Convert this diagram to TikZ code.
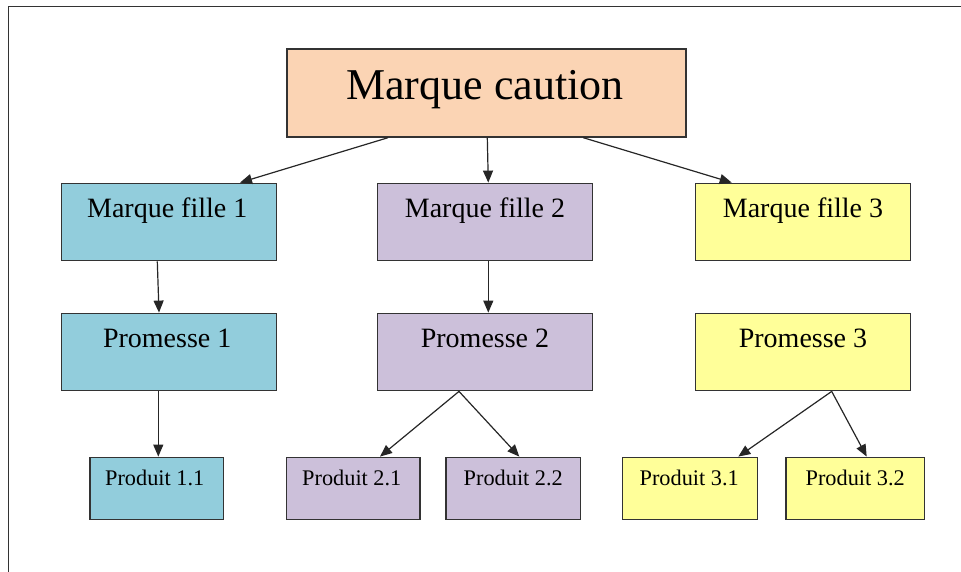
\documentclass[tikz,border=0pt]{standalone}
\usepackage{fontspec}
\setmainfont{Liberation Serif}
\usetikzlibrary{arrows.meta}
\definecolor{peach}{HTML}{FBD4B4}
\definecolor{aqua}{HTML}{92CDDC}
\definecolor{lilac}{HTML}{CCC0DA}
\definecolor{lemon}{HTML}{FFFF99}
\definecolor{edgegray}{HTML}{333333}
\tikzset{
  box/.style={draw=edgegray, line width=1.4pt, rectangle, inner sep=0pt},
  bigtxt/.style={anchor=base, inner sep=0pt, font=\fontsize{44}{50}\selectfont},
  midtxt/.style={anchor=base, inner sep=0pt, font=\fontsize{28}{33}\selectfont},
  smalltxt/.style={anchor=base, inner sep=0pt, font=\fontsize{22.3}{26}\selectfont},
  arr/.style={draw=black!85, line width=1.2pt, -{Triangle[length=12pt,width=10pt]}}
}
\begin{document}
\begin{tikzpicture}[x=1pt,y=-1pt]
\useasboundingbox (0,0) rectangle (961,572);
% page frame (left and top edges)
\draw[edgegray, line width=1.3pt] (8.5,572) -- (8.5,6.5) -- (961,6.5);

% top level
\node[box, fill=peach, minimum width=399pt, minimum height=88pt] (top) at (486.5,93) {};
\node[bigtxt] (topt) at ([xshift=-1.5pt,yshift=-51pt]top.north) {Marque caution};

% daughter brands
\node[box, fill=aqua,  minimum width=215pt, minimum height=77.4pt] (mf1) at (169.2,222) {};
\node[box, fill=lilac, minimum width=215.4pt, minimum height=77.4pt] (mf2) at (485,222) {};
\node[box, fill=lemon, minimum width=215.4pt, minimum height=77.4pt] (mf3) at (803,222) {};
\node[midtxt] (mf1t) at ([xshift=-2pt,yshift=-35pt]mf1.north) {Marque fille 1};
\node[midtxt] (mf2t) at ([yshift=-35pt]mf2.north) {Marque fille 2};
\node[midtxt] (mf3t) at ([yshift=-35pt]mf3.north) {Marque fille 3};

% promises
\node[box, fill=aqua,  minimum width=215pt, minimum height=77.4pt] (p1) at (169.2,352) {};
\node[box, fill=lilac, minimum width=215.4pt, minimum height=77.4pt] (p2) at (485,352) {};
\node[box, fill=lemon, minimum width=215.4pt, minimum height=77.4pt] (p3) at (803,352) {};
\node[midtxt] (p1t) at ([xshift=-2pt,yshift=-34.4pt]p1.north) {Promesse 1};
\node[midtxt] (p2t) at ([yshift=-34.4pt]p2.north) {Promesse 2};
\node[midtxt] (p3t) at ([yshift=-34.4pt]p3.north) {Promesse 3};

% products
\node[box, fill=aqua,  minimum width=133.3pt, minimum height=62pt] (pr11) at (156.7,488.3) {};
\node[box, fill=lilac, minimum width=133.3pt, minimum height=62pt] (pr21) at (353.3,488.3) {};
\node[box, fill=lilac, minimum width=134.7pt, minimum height=62pt] (pr22) at (513.3,488.3) {};
\node[box, fill=lemon, minimum width=135pt,   minimum height=62pt] (pr31) at (690.2,488.3) {};
\node[box, fill=lemon, minimum width=138.3pt, minimum height=62pt] (pr32) at (855.2,488.3) {};
\node[smalltxt] (pr11t) at ([xshift=-2pt,yshift=-28.7pt]pr11.north) {Produit 1.1};
\node[smalltxt] (pr21t) at ([xshift=-1.5pt,yshift=-28.7pt]pr21.north) {Produit 2.1};
\node[smalltxt] (pr22t) at ([yshift=-28.7pt]pr22.north) {Produit 2.2};
\node[smalltxt] (pr31t) at ([xshift=-1pt,yshift=-28.7pt]pr31.north) {Produit 3.1};
\node[smalltxt] (pr32t) at ([yshift=-28.7pt]pr32.north) {Produit 3.2};

% connectors
\draw[arr] ([xshift=-98.5pt]top.south) -- ([xshift=70.8pt]mf1.north);
\draw[arr] ([xshift=0.8pt]top.south) -- ([xshift=3.3pt]mf2.north);
\draw[arr] ([xshift=96.8pt]top.south) -- ([xshift=-71.3pt]mf3.north);
\draw[arr] ([xshift=-11.9pt]mf1.south) -- ([xshift=-10.2pt]p1.north);
\draw[arr] ([xshift=3.3pt]mf2.south) -- ([xshift=3.3pt]p2.north);
\draw[arr] ([xshift=-10.9pt]p1.south) -- ([xshift=1.6pt]pr11.north);
\draw[arr] ([xshift=-26pt]p2.south) -- ([xshift=26.7pt]pr21.north);
\draw[arr] ([xshift=-26pt]p2.south) -- ([xshift=6pt]pr22.north);
\draw[arr] ([xshift=28.7pt]p3.south) -- ([xshift=48.1pt]pr31.north);
\draw[arr] ([xshift=28.7pt]p3.south) -- ([xshift=11.5pt]pr32.north);
\end{tikzpicture}
\end{document}
